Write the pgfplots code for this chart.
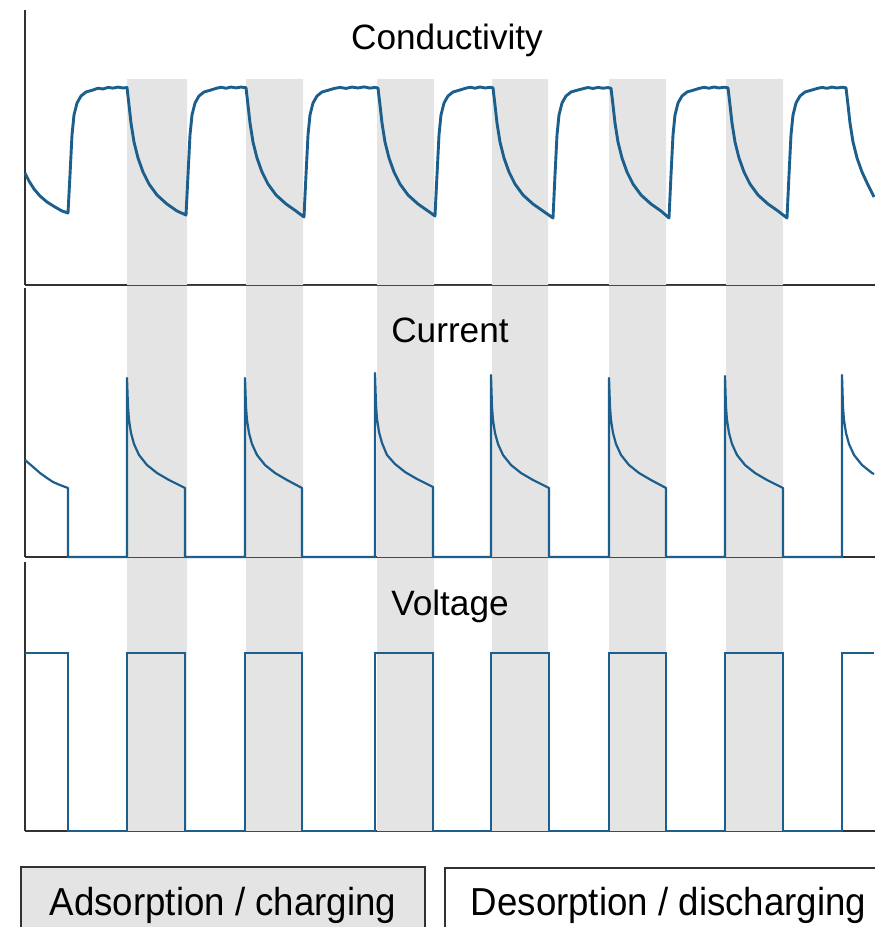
\documentclass[border=0pt]{standalone}
\usepackage{fontspec}
\setmainfont{Liberation Sans}
\usepackage{pgfplots}
\usepackage{pgfplotstable}
\pgfplotsset{compat=1.18}
\definecolor{bandgray}{RGB}{228,228,228}
\definecolor{lineblue}{RGB}{28,94,140}
\definecolor{axisgray}{RGB}{50,50,50}

% band edges (x in time units, on = shaded)
\pgfplotstableread{
x on
127 1
187 0
246 1
303 0
377 1
434 0
492 1
548 0
609 1
666 0
726 1
783 0
}\bands

\pgfplotstableread{
x y
25 112
29 104
34 96
40 89
47 83
55 78
62 74
68 72
70 110
72 150
74 170
77 182
81 189
86 193
93 195
98 196.8
103 196
108 197.6
113 196.9
118 197.9
123 197
127 197.5
129 180
131 162
134 143
138 127
143 113
149 101
157 90
167 81
177 74
186 70
188 110
190 150
192 170
195 182
199 189
204 193
211 195
216 196.6
221 197.8
226 196.7
231 198
236 197.1
241 197.9
246 197.3
248 180
250 162
253 143
257 127
262 113
268 101
276 90
286 81
296 74
304 68
306 110
308 150
310 170
313 182
317 189
322 193
329 195
334 196.5
340 197.6
346 196.6
352 197.9
358 197
364 198.1
370 196.9
375 197.6
378 197
380 180
382 162
385 143
389 127
394 113
400 101
408 90
418 81
428 74
435 69
437 110
439 150
441 170
444 182
448 189
453 193
460 195
465 196.6
470 197.8
475 196.8
480 198
485 197
490 197.7
493 197.2
495 180
497 162
500 143
504 127
509 113
515 101
523 90
533 81
543 74
553 67
555 110
557 150
559 170
562 182
566 189
571 193
578 195
583 196.3
588 197.5
593 196.5
598 197.6
603 196.8
608 197.4
611 196.8
613 180
615 162
618 143
622 127
627 113
633 101
641 90
651 81
661 74
669 67
671 110
673 150
675 170
678 182
682 189
687 193
694 195
699 196.6
704 197.7
709 196.8
714 198
719 197
724 197.8
728 197.2
730 180
732 162
735 143
739 127
744 113
750 101
758 90
768 81
778 74
787 67
789 110
791 150
793 170
796 182
800 189
805 193
812 195
817 196.5
822 197.6
827 196.7
832 197.9
837 197
842 197.8
846 197.2
848 180
850 162
853 143
857 127
862 113
868 100
874 88
}\conductivity

\pgfplotstableread{
x y
25 97
32 91
40 84
47 79
53 75
60 72
68 69
68 0
127 0
127 179
128 150
129 137
131 124
134 113
139 102
147 92
157 84
169 77
185 69
185 0
245 0
245 179
246 150
247 137
249 124
252 113
257 102
265 92
275 84
287 77
302 69
302 0
375 0
375 184
376 152
377 138
379 125
382 114
387 102
395 93
405 85
417 78
433 70
433 0
491 0
491 182
492 150
493 137
495 124
498 113
503 102
511 92
521 84
533 77
549 69
549 0
609 0
609 179
610 150
611 137
613 124
616 113
621 102
629 92
639 84
651 77
666 69
666 0
725 0
725 181
726 150
727 137
729 124
732 113
737 102
745 92
755 84
767 77
783 69
783 0
842 0
842 182
843 150
844 137
846 124
849 113
854 102
862 92
872 84
874 83
}\current

\pgfplotstableread{
x y
25 178
68 178
68 0
127 0
127 178
185 178
185 0
245 0
245 178
302 178
302 0
375 0
375 178
433 178
433 0
491 0
491 178
549 178
549 0
609 0
609 178
666 178
666 0
725 0
725 178
783 178
783 0
842 0
842 178
874 178
}\voltage

\pgfplotsset{
  panel/.style={
    x=0.5pt, y=0.5pt,
    xmin=25, xmax=876, ymin=0,
    anchor=south west,
    axis x line*=bottom, axis y line*=left,
    axis line style={line width=1.3pt, draw=axisgray},
    xtick=\empty, ytick=\empty,
    clip=false,
  },
}

\begin{document}
\begin{tikzpicture}
\useasboundingbox (0,0) rectangle (437pt,-463.5pt);

% Voltage panel
\begin{axis}[panel, ymax=269, at={(12.5pt,-415.5pt)}]
  \addplot[const plot, fill=bandgray, draw=none] table[x=x, y expr=\thisrow{on}*274] {\bands} \closedcycle;
  \addplot[lineblue, line width=1.15pt, line join=miter] table[x=x,y=y] {\voltage};
  \node[anchor=base, font=\fontsize{17.6}{20}\selectfont] at (axis cs:450,216) {Voltage};
\end{axis}

% Current panel
\begin{axis}[panel, ymax=269, at={(12.5pt,-278.5pt)}]
  \addplot[const plot, fill=bandgray, draw=none] table[x=x, y expr=\thisrow{on}*272] {\bands} \closedcycle;
  \addplot[lineblue, line width=1.1pt, line join=round] table[x=x,y=y] {\current};
  \node[anchor=base, font=\fontsize{17.6}{20}\selectfont] at (axis cs:450,215) {Current};
\end{axis}

% Conductivity panel
\begin{axis}[panel, ymax=275, at={(12.5pt,-142.5pt)}]
  \addplot[const plot, fill=bandgray, draw=none] table[x=x, y expr=\thisrow{on}*206] {\bands} \closedcycle;
  \addplot[lineblue, line width=1.45pt, line join=round] table[x=x,y=y] {\conductivity};
  \node[anchor=base, font=\fontsize{17.6}{20}\selectfont] at (axis cs:447,236) {Conductivity};
\end{axis}

% legend boxes
\draw[line width=0.75pt, draw=axisgray, fill=bandgray] (10.5pt,-433.5pt) rectangle (212.5pt,-470pt);
\node[anchor=base, font=\fontsize{19.5}{22}\selectfont] at (111.5pt,-457.5pt) {\scalebox{0.94}[1]{Adsorption / charging}};
\draw[line width=0.75pt, draw=axisgray, fill=white] (222.5pt,-434pt) rectangle (446pt,-470pt);
\node[anchor=base, font=\fontsize{19.5}{22}\selectfont] at (334.25pt,-457.5pt) {\scalebox{0.94}[1]{Desorption / discharging}};
\end{tikzpicture}
\end{document}
